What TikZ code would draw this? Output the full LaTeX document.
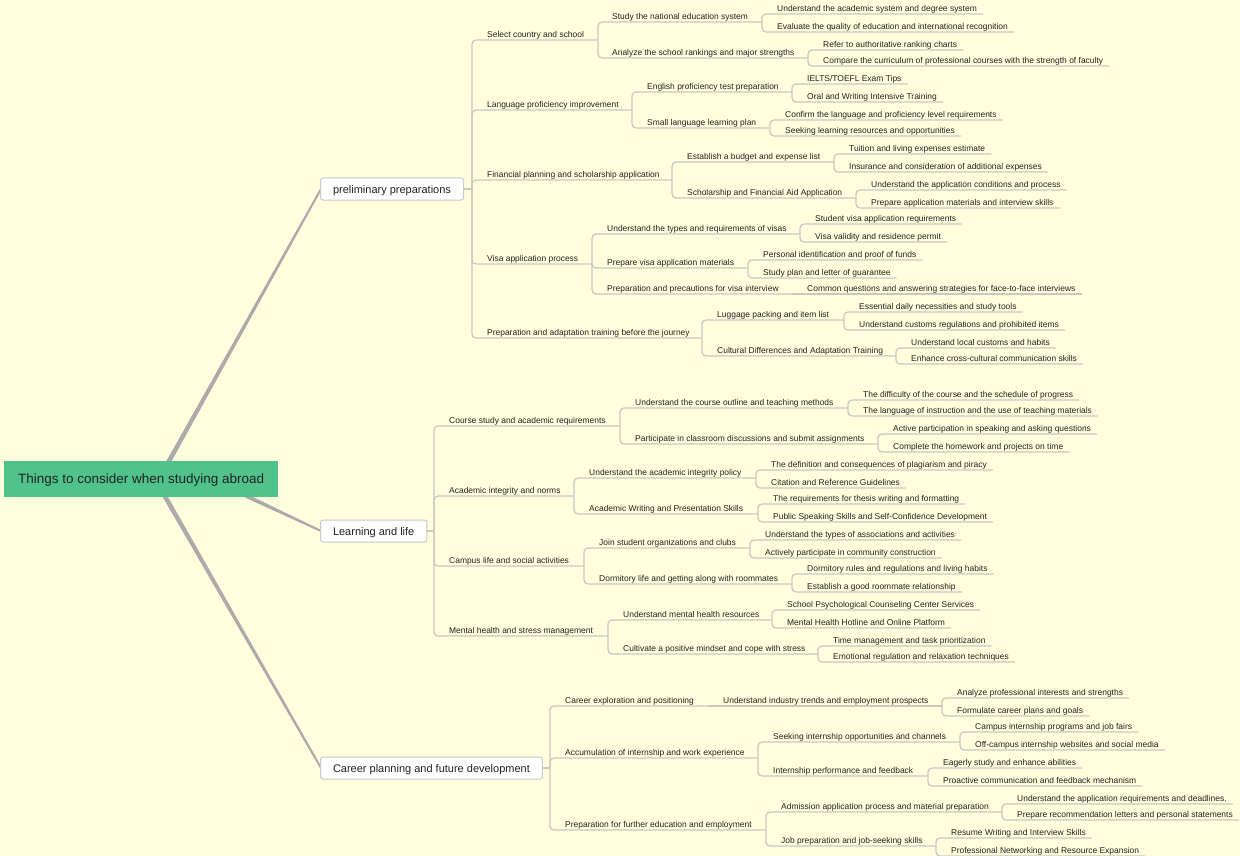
\documentclass[tikz,border=0pt]{standalone}
\usepackage{fontspec}
\setmainfont{Liberation Sans}
\usetikzlibrary{calc}
\definecolor{bg}{HTML}{FFFFDD}
\definecolor{rootgreen}{HTML}{50C28B}
\definecolor{conncol}{HTML}{C9C9C2}
\definecolor{rootline}{HTML}{ABABAB}
\definecolor{txt}{HTML}{222222}
\definecolor{boxline}{HTML}{C8C8C8}
\tikzset{
 lbl/.style={anchor=west, inner sep=0pt, text height=6.3pt, text depth=1.7pt, yshift=-0.8pt, font=\fontsize{8.45}{10}\selectfont, text=txt},
 conn/.style={draw=conncol, line width=1.3pt, rounded corners=4pt},
 lvlone/.style={draw=boxline, line width=1pt, fill=white, rounded corners=2.5pt, font=\fontsize{11}{13}\selectfont, inner xsep=12.5pt, inner ysep=0pt, text height=9.2pt, text depth=1pt, minimum height=22pt, text=txt, anchor=west},
 rootbox/.style={fill=rootgreen, font=\fontsize{13.5}{16}\selectfont, inner sep=0pt, text height=11.2pt, text depth=1.4pt, minimum height=36pt, minimum width=274pt, anchor=west, text=txt},
}
\newcommand\nd[5]{\node[lbl] (#1) at (#2,#3) {#4};
 \ifx&#5&\coordinate (#1-e) at ($(#1.east)+(6,5.2)$);\else\coordinate (#1-e) at (#5,{#3+6});\fi}
\newcommand\cn[2]{\draw[conn] (#1-e) |- (#2-e);}
\newcommand\cs[2]{\draw[conn] (#1-e) -- (#2-e);}
\newcommand\taper[4]{\fill[rootline] ($(#1)!#3!90:(#2)$) -- ($(#2)!#4!-90:(#1)$) -- ($(#2)!#4!90:(#1)$) -- ($(#1)!#3!-90:(#2)$) -- cycle;}
\begin{document}
\begin{tikzpicture}[x=1pt,y=-1pt]
\fill[bg] (0,0) rectangle (1240,856);
\useasboundingbox (0,0) rectangle (1240,856);
% root and first level
\coordinate (o1) at (159,479);
\coordinate (o2) at (210,479);
\coordinate (o3) at (155,479);
\coordinate (t1) at (321,189);
\coordinate (t2) at (321,531);
\coordinate (t3) at (321,768);
\taper{o1}{t1}{2.4pt}{1pt}
\taper{o2}{t2}{2.4pt}{1pt}
\taper{o3}{t3}{2.4pt}{1pt}
\node[rootbox] (root) at (4,479) {Things to consider when studying abroad};

\node[lvlone] (p) at (320,189) {preliminary preparations};
\coordinate (p-e) at (472,189);
\draw[conn] (p.east) -- (p-e);
\node[lvlone] (l) at (320,531) {Learning and life};
\coordinate (l-e) at (434,531);
\draw[conn] (l.east) -- (l-e);
\node[lvlone] (c) at (320,768) {Career planning and future development};
\coordinate (c-e) at (550,768);
\draw[conn] (c.east) -- (c-e);

% branch 1
\nd{p1}{487}{34}{Select country and school}{598}
\nd{p11}{612}{16}{Study the national education system}{762}
\nd{p111}{777}{8}{Understand the academic system and degree system}{}
\nd{p112}{777}{26}{Evaluate the quality of education and international recognition}{}
\nd{p12}{612}{52}{Analyze the school rankings and major strengths}{808}
\nd{p121}{823}{44}{Refer to authoritative ranking charts}{}
\nd{p122}{823}{60}{Compare the curriculum of professional courses with the strength of faculty}{}
\nd{p2}{487}{104}{Language proficiency improvement}{632}
\nd{p21}{647}{86}{English proficiency test preparation}{792}
\nd{p211}{807}{78}{IELTS/TOEFL Exam Tips}{}
\nd{p212}{807}{96}{Oral and Writing Intensive Training}{}
\nd{p22}{647}{122}{Small language learning plan}{770}
\nd{p221}{785}{114}{Confirm the language and proficiency level requirements}{}
\nd{p222}{785}{130}{Seeking learning resources and opportunities}{}
\nd{p3}{487}{174}{Financial planning and scholarship application}{672}
\nd{p31}{687}{156}{Establish a budget and expense list}{834}
\nd{p311}{849}{148}{Tuition and living expenses estimate}{}
\nd{p312}{849}{166}{Insurance and consideration of additional expenses}{}
\nd{p32}{687}{192}{Scholarship and Financial Aid Application}{856}
\nd{p321}{871}{184}{Understand the application conditions and process}{}
\nd{p322}{871}{202}{Prepare application materials and interview skills}{}
\nd{p4}{487}{258}{Visa application process}{592}
\nd{p41}{607}{228}{Understand the types and requirements of visas}{800}
\nd{p411}{815}{218}{Student visa application requirements}{}
\nd{p412}{815}{236}{Visa validity and residence permit}{}
\nd{p42}{607}{262}{Prepare visa application materials}{748}
\nd{p421}{763}{254}{Personal identification and proof of funds}{}
\nd{p422}{763}{272}{Study plan and letter of guarantee}{}
\nd{p43}{607}{288}{Preparation and precautions for visa interview}{792}
\nd{p431}{807}{288}{Common questions and answering strategies for face-to-face interviews}{}
\nd{p5}{487}{332}{Preparation and adaptation training before the journey}{702}
\nd{p51}{717}{314}{Luggage packing and item list}{844}
\nd{p511}{859}{306}{Essential daily necessities and study tools}{}
\nd{p512}{859}{324}{Understand customs regulations and prohibited items}{}
\nd{p52}{717}{350}{Cultural Differences and Adaptation Training}{896}
\nd{p521}{911}{342}{Understand local customs and habits}{}
\nd{p522}{911}{358}{Enhance cross-cultural communication skills}{}

\cn{p}{p1}\cn{p}{p2}\cn{p}{p3}\cn{p}{p4}\cn{p}{p5}
\cn{p1}{p11}\cn{p1}{p12}\cn{p11}{p111}\cn{p11}{p112}\cn{p12}{p121}\cn{p12}{p122}
\cn{p2}{p21}\cn{p2}{p22}\cn{p21}{p211}\cn{p21}{p212}\cn{p22}{p221}\cn{p22}{p222}
\cn{p3}{p31}\cn{p3}{p32}\cn{p31}{p311}\cn{p31}{p312}\cn{p32}{p321}\cn{p32}{p322}
\cn{p4}{p41}\cn{p4}{p42}\cn{p4}{p43}\cn{p41}{p411}\cn{p41}{p412}\cn{p42}{p421}\cn{p42}{p422}\cs{p43}{p431}
\cn{p5}{p51}\cn{p5}{p52}\cn{p51}{p511}\cn{p51}{p512}\cn{p52}{p521}\cn{p52}{p522}

% branch 2
\nd{l1}{449}{420}{Course study and academic requirements}{620}
\nd{l11}{635}{402}{Understand the course outline and teaching methods}{848}
\nd{l111}{863}{394}{The difficulty of the course and the schedule of progress}{}
\nd{l112}{863}{410}{The language of instruction and the use of teaching materials}{}
\nd{l12}{635}{438}{Participate in classroom discussions and submit assignments}{878}
\nd{l121}{893}{428}{Active participation in speaking and asking questions}{}
\nd{l122}{893}{446}{Complete the homework and projects on time}{}
\nd{l2}{449}{490}{Academic integrity and norms}{574}
\nd{l21}{589}{472}{Understand the academic integrity policy}{756}
\nd{l211}{771}{464}{The definition and consequences of plagiarism and piracy}{}
\nd{l212}{771}{482}{Citation and Reference Guidelines}{}
\nd{l22}{589}{508}{Academic Writing and Presentation Skills}{758}
\nd{l221}{773}{498}{The requirements for thesis writing and formatting}{}
\nd{l222}{773}{516}{Public Speaking Skills and Self-Confidence Development}{}
\nd{l3}{449}{560}{Campus life and social activities}{584}
\nd{l31}{599}{542}{Join student organizations and clubs}{750}
\nd{l311}{765}{534}{Understand the types of associations and activities}{}
\nd{l312}{765}{552}{Actively participate in community construction}{}
\nd{l32}{599}{578}{Dormitory life and getting along with roommates}{792}
\nd{l321}{807}{568}{Dormitory rules and regulations and living habits}{}
\nd{l322}{807}{586}{Establish a good roommate relationship}{}
\nd{l4}{449}{630}{Mental health and stress management}{608}
\nd{l41}{623}{614}{Understand mental health resources}{772}
\nd{l411}{787}{604}{School Psychological Counseling Center Services}{}
\nd{l412}{787}{622}{Mental Health Hotline and Online Platform}{}
\nd{l42}{623}{648}{Cultivate a positive mindset and cope with stress}{818}
\nd{l421}{833}{640}{Time management and task prioritization}{}
\nd{l422}{833}{656}{Emotional regulation and relaxation techniques}{}

\cn{l}{l1}\cn{l}{l2}\cn{l}{l3}\cn{l}{l4}
\cn{l1}{l11}\cn{l1}{l12}\cn{l11}{l111}\cn{l11}{l112}\cn{l12}{l121}\cn{l12}{l122}
\cn{l2}{l21}\cn{l2}{l22}\cn{l21}{l211}\cn{l21}{l212}\cn{l22}{l221}\cn{l22}{l222}
\cn{l3}{l31}\cn{l3}{l32}\cn{l31}{l311}\cn{l31}{l312}\cn{l32}{l321}\cn{l32}{l322}
\cn{l4}{l41}\cn{l4}{l42}\cn{l41}{l411}\cn{l41}{l412}\cn{l42}{l421}\cn{l42}{l422}

% branch 3
\nd{c1}{565}{700}{Career exploration and positioning}{708}
\nd{c11}{723}{700}{Understand industry trends and employment prospects}{942}
\nd{c111}{957}{692}{Analyze professional interests and strengths}{}
\nd{c112}{957}{710}{Formulate career plans and goals}{}
\nd{c2}{565}{752}{Accumulation of internship and work experience}{758}
\nd{c21}{773}{736}{Seeking internship opportunities and channels}{960}
\nd{c211}{975}{726}{Campus internship programs and job fairs}{}
\nd{c212}{975}{744}{Off-campus internship websites and social media}{}
\nd{c22}{773}{770}{Internship performance and feedback}{928}
\nd{c221}{943}{762}{Eagerly study and enhance abilities}{}
\nd{c222}{943}{780}{Proactive communication and feedback mechanism}{}
\nd{c3}{565}{824}{Preparation for further education and employment}{766}
\nd{c31}{781}{806}{Admission application process and material preparation}{1002}
\nd{c311}{1017}{798}{Understand the application requirements and deadlines.}{}
\nd{c312}{1017}{814}{Prepare recommendation letters and personal statements}{}
\nd{c32}{781}{840}{Job preparation and job-seeking skills}{936}
\nd{c321}{951}{832}{Resume Writing and Interview Skills}{}
\nd{c322}{951}{850}{Professional Networking and Resource Expansion}{}

\cn{c}{c1}\cn{c}{c2}\cn{c}{c3}
\cs{c1}{c11}\cn{c11}{c111}\cn{c11}{c112}
\cn{c2}{c21}\cn{c2}{c22}\cn{c21}{c211}\cn{c21}{c212}\cn{c22}{c221}\cn{c22}{c222}
\cn{c3}{c31}\cn{c3}{c32}\cn{c31}{c311}\cn{c31}{c312}\cn{c32}{c321}\cn{c32}{c322}
\end{tikzpicture}
\end{document}
